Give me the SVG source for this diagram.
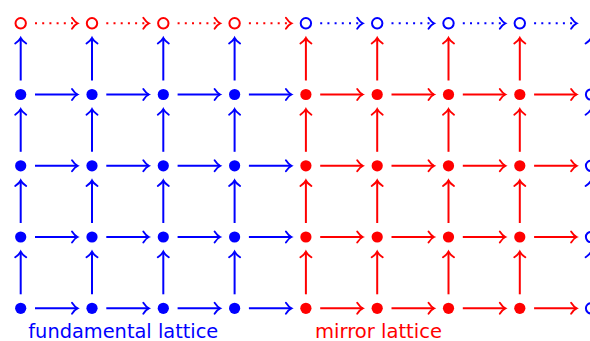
<svg xmlns="http://www.w3.org/2000/svg" width="590" height="341" viewBox="0 0 590 341">
<style>
.b{stroke:#0000ff;fill:none}
.r{stroke:#ff0000;fill:none}
.ln{stroke-width:2}
.dt{stroke-width:2;stroke-dasharray:2 5.2}
.fb{fill:#0000ff;stroke:none}
.fr{fill:#ff0000;stroke:none}
.hb{fill:#fff;stroke:#0000ff;stroke-width:2}
.hr{fill:#fff;stroke:#ff0000;stroke-width:2}
text{font-family:"DejaVu Sans","Liberation Sans",sans-serif;font-size:19px}
</style>
<defs>
<marker id="ab" markerUnits="userSpaceOnUse" markerWidth="14" markerHeight="14" viewBox="-8 -7 10 14" refX="0" refY="0" orient="auto" overflow="visible"><path d="M-5.5,-5.5 C-3.5,-2.5 -1.5,-0.7 0,0 C-1.5,0.7 -3.5,2.5 -5.5,5.5" fill="none" stroke="#0000ff" stroke-width="1.9" stroke-linecap="round"/></marker>
<marker id="ar" markerUnits="userSpaceOnUse" markerWidth="14" markerHeight="14" viewBox="-8 -7 10 14" refX="0" refY="0" orient="auto" overflow="visible"><path d="M-5.5,-5.5 C-3.5,-2.5 -1.5,-0.7 0,0 C-1.5,0.7 -3.5,2.5 -5.5,5.5" fill="none" stroke="#ff0000" stroke-width="1.9" stroke-linecap="round"/></marker>
</defs>
<g id="connectors">
<g class="r dt" marker-end="url(#ar)">
<path d="M35,23.3H77.5"/><path d="M106.3,23.3H148.8"/><path d="M177.6,23.3H220.1"/><path d="M248.9,23.3H291.4"/>
</g>
<g class="b dt" marker-end="url(#ab)">
<path d="M320.2,23.3H362.7"/><path d="M391.5,23.3H434"/><path d="M462.8,23.3H505.3"/><path d="M534.1,23.3H576.6"/>
</g>
<g class="b ln" marker-end="url(#ab)">
<path d="M35,94.5H77.5"/><path d="M106.3,94.5H148.8"/><path d="M177.6,94.5H220.1"/><path d="M248.9,94.5H291.4"/>
<path d="M35,165.8H77.5"/><path d="M106.3,165.8H148.8"/><path d="M177.6,165.8H220.1"/><path d="M248.9,165.8H291.4"/>
<path d="M35,237H77.5"/><path d="M106.3,237H148.8"/><path d="M177.6,237H220.1"/><path d="M248.9,237H291.4"/>
<path d="M35,308.3H77.5"/><path d="M106.3,308.3H148.8"/><path d="M177.6,308.3H220.1"/><path d="M248.9,308.3H291.4"/>
</g>
<g class="r ln" marker-end="url(#ar)">
<path d="M320.2,94.5H362.7"/><path d="M391.5,94.5H434"/><path d="M462.8,94.5H505.3"/><path d="M534.1,94.5H576.6"/>
<path d="M320.2,165.8H362.7"/><path d="M391.5,165.8H434"/><path d="M462.8,165.8H505.3"/><path d="M534.1,165.8H576.6"/>
<path d="M320.2,237H362.7"/><path d="M391.5,237H434"/><path d="M462.8,237H505.3"/><path d="M534.1,237H576.6"/>
<path d="M320.2,308.3H362.7"/><path d="M391.5,308.3H434"/><path d="M462.8,308.3H505.3"/><path d="M534.1,308.3H576.6"/>
</g>
<g class="b ln" marker-end="url(#ab)">
<path d="M20.7,80.5V38"/><path d="M92,80.5V38"/><path d="M163.3,80.5V38"/><path d="M234.6,80.5V38"/>
<path d="M20.7,151.8V109.2"/><path d="M92,151.8V109.2"/><path d="M163.3,151.8V109.2"/><path d="M234.6,151.8V109.2"/>
<path d="M20.7,223V180.5"/><path d="M92,223V180.5"/><path d="M163.3,223V180.5"/><path d="M234.6,223V180.5"/>
<path d="M20.7,294.3V251.7"/><path d="M92,294.3V251.7"/><path d="M163.3,294.3V251.7"/><path d="M234.6,294.3V251.7"/>
</g>
<g class="r ln" marker-end="url(#ar)">
<path d="M305.9,80.5V38"/><path d="M377.2,80.5V38"/><path d="M448.5,80.5V38"/><path d="M519.8,80.5V38"/>
<path d="M305.9,151.8V109.2"/><path d="M377.2,151.8V109.2"/><path d="M448.5,151.8V109.2"/><path d="M519.8,151.8V109.2"/>
<path d="M305.9,223V180.5"/><path d="M377.2,223V180.5"/><path d="M448.5,223V180.5"/><path d="M519.8,223V180.5"/>
<path d="M305.9,294.3V251.7"/><path d="M377.2,294.3V251.7"/><path d="M448.5,294.3V251.7"/><path d="M519.8,294.3V251.7"/>
</g>
<g class="b dt" marker-end="url(#ab)">
<path d="M591.1,80.5V38"/><path d="M591.1,151.8V109.2"/><path d="M591.1,223V180.5"/><path d="M591.1,294.3V251.7"/>
</g>
</g>
<g id="top-row">
<circle id="t0" class="hr" cx="20.7" cy="23.3" r="5.2"/>
<circle id="t1" class="hr" cx="92" cy="23.3" r="5.2"/>
<circle id="t2" class="hr" cx="163.3" cy="23.3" r="5.2"/>
<circle id="t3" class="hr" cx="234.6" cy="23.3" r="5.2"/>
<circle id="t4" class="hb" cx="305.9" cy="23.3" r="5.2"/>
<circle id="t5" class="hb" cx="377.2" cy="23.3" r="5.2"/>
<circle id="t6" class="hb" cx="448.5" cy="23.3" r="5.2"/>
<circle id="t7" class="hb" cx="519.8" cy="23.3" r="5.2"/>
</g>
<g id="fundamental-nodes" class="fb">
<circle cx="20.7" cy="94.5" r="5.6"/><circle cx="92" cy="94.5" r="5.6"/><circle cx="163.3" cy="94.5" r="5.6"/><circle cx="234.6" cy="94.5" r="5.6"/>
<circle cx="20.7" cy="165.8" r="5.6"/><circle cx="92" cy="165.8" r="5.6"/><circle cx="163.3" cy="165.8" r="5.6"/><circle cx="234.6" cy="165.8" r="5.6"/>
<circle cx="20.7" cy="237" r="5.6"/><circle cx="92" cy="237" r="5.6"/><circle cx="163.3" cy="237" r="5.6"/><circle cx="234.6" cy="237" r="5.6"/>
<circle cx="20.7" cy="308.3" r="5.6"/><circle cx="92" cy="308.3" r="5.6"/><circle cx="163.3" cy="308.3" r="5.6"/><circle cx="234.6" cy="308.3" r="5.6"/>
</g>
<g id="mirror-nodes" class="fr">
<circle cx="305.9" cy="94.5" r="5.6"/><circle cx="377.2" cy="94.5" r="5.6"/><circle cx="448.5" cy="94.5" r="5.6"/><circle cx="519.8" cy="94.5" r="5.6"/>
<circle cx="305.9" cy="165.8" r="5.6"/><circle cx="377.2" cy="165.8" r="5.6"/><circle cx="448.5" cy="165.8" r="5.6"/><circle cx="519.8" cy="165.8" r="5.6"/>
<circle cx="305.9" cy="237" r="5.6"/><circle cx="377.2" cy="237" r="5.6"/><circle cx="448.5" cy="237" r="5.6"/><circle cx="519.8" cy="237" r="5.6"/>
<circle cx="305.9" cy="308.3" r="5.6"/><circle cx="377.2" cy="308.3" r="5.6"/><circle cx="448.5" cy="308.3" r="5.6"/><circle cx="519.8" cy="308.3" r="5.6"/>
</g>
<g id="edge-nodes">
<circle class="hb" cx="591.1" cy="94.5" r="5.2"/>
<circle class="hb" cx="591.1" cy="165.8" r="5.2"/>
<circle class="hb" cx="591.1" cy="237" r="5.2"/>
<circle class="hb" cx="591.1" cy="308.3" r="5.2"/>
</g>
<g id="labels">
<text x="28.3" y="338.3" fill="#0000ff" textLength="190" lengthAdjust="spacingAndGlyphs">fundamental lattice</text>
<text x="315" y="338.3" fill="#ff0000" textLength="127" lengthAdjust="spacingAndGlyphs">mirror lattice</text>
</g>
</svg>
